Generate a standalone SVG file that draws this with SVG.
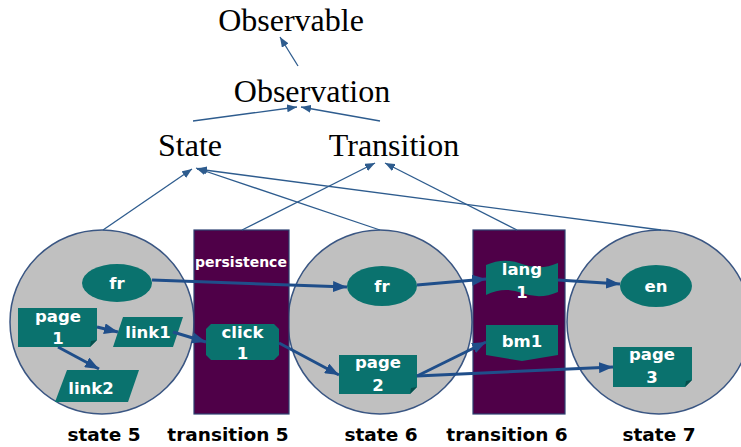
<svg xmlns="http://www.w3.org/2000/svg" width="741" height="447" viewBox="0 0 741 447">
<defs>
<style>
.top{font-family:"Liberation Serif","Times New Roman",serif;font-size:32px;fill:#000;text-anchor:middle}
.state{fill:#c0c0c0;stroke:#3a5683;stroke-width:1.5}
.trans{fill:#4f0048;stroke:#2e4272;stroke-width:1.2}
.shape{fill:#0a726e}
.nt{font-family:"DejaVu Sans",Verdana,sans-serif;font-weight:bold;font-size:16.5px;fill:#fff;text-anchor:middle}
.pt{font-family:"DejaVu Sans",Verdana,sans-serif;font-weight:bold;font-size:14px;fill:#fff;text-anchor:middle}
.lbl{font-family:"DejaVu Sans",Verdana,sans-serif;font-weight:bold;font-size:18.5px;fill:#000;text-anchor:middle}
.thin{fill:none;stroke:#2e5c8e;stroke-width:1.3;marker-end:url(#ah)}
.thick{fill:none;stroke:#1f4e8a;stroke-width:3;marker-end:url(#AH)}
</style>
<marker id="ah" markerUnits="userSpaceOnUse" markerWidth="10" markerHeight="8" viewBox="0 0 10 8" refX="10" refY="4" orient="auto">
<path d="M0,0 L10,4 L0,8 Z" fill="#2e5c8e"/>
</marker>
<marker id="AH" markerUnits="userSpaceOnUse" markerWidth="14" markerHeight="11" viewBox="0 0 14 11" refX="14" refY="5.5" orient="auto">
<path d="M0,0 L14,5.5 L0,11 Z" fill="#1f4e8a"/>
</marker>
</defs>
<rect width="741" height="447" fill="#fff"/>

<g id="observable"><text class="top" x="291" y="31">Observable</text></g>
<g id="observation"><text class="top" x="312" y="102">Observation</text></g>
<g id="state"><text class="top" x="190" y="156">State</text></g>
<g id="transition"><text class="top" x="394" y="156">Transition</text></g>

<g id="state5"><circle class="state" cx="102" cy="322" r="92"/></g>
<g id="state6"><circle class="state" cx="380" cy="322" r="92"/></g>
<g id="state7"><circle class="state" cx="659" cy="322" r="92"/></g>
<g id="transition5"><rect class="trans" x="194" y="230" width="95" height="184"/><text class="pt" x="241" y="267">persistence</text></g>
<g id="transition6"><rect class="trans" x="473" y="230" width="92" height="184"/></g>

<g id="fr5"><ellipse class="shape" cx="117" cy="283" rx="35" ry="19"/><text class="nt" x="117" y="289">fr</text></g>
<g id="page1"><path class="shape" d="M18,308 H97 V340 L90,347 H18 Z"/><path d="M97,340 L90,347 L91,341 Z" fill="#064f4c"/><text class="nt" x="58" y="322">page</text><text class="nt" x="58" y="344">1</text></g>
<g id="link1"><path class="shape" d="M113,347 L123,317 H183 L173,347 Z"/><text class="nt" x="148" y="338">link1</text></g>
<g id="link2"><path class="shape" d="M55,402 L67,370 H139 L128,402 Z"/><text class="nt" x="91" y="394">link2</text></g>
<g id="click1"><path class="shape" d="M211,324 H274 L279,329 V355 L274,360 H211 L206,355 V329 Z"/><text class="nt" x="242.5" y="338">click</text><text class="nt" x="242.5" y="359">1</text></g>
<g id="fr6"><ellipse class="shape" cx="382" cy="286" rx="35" ry="20"/><text class="nt" x="382" y="292">fr</text></g>
<g id="page2"><path class="shape" d="M339,355 H417 V387 L410,394 H339 Z"/><path d="M417,387 L410,394 L411,388 Z" fill="#064f4c"/><text class="nt" x="378" y="368">page</text><text class="nt" x="378" y="391">2</text></g>
<g id="lang1"><path class="shape" d="M486,265 Q504,257 522,264 T558,263 V292 Q540,300 522,293 T486,295 Z"/><text class="nt" x="522" y="275">lang</text><text class="nt" x="522" y="298">1</text></g>
<g id="bm1"><path class="shape" d="M486,325 H558 V355 L522,361 L486,355 Z"/><text class="nt" x="522" y="347">bm1</text></g>
<g id="en"><ellipse class="shape" cx="656" cy="286" rx="36" ry="21"/><text class="nt" x="656" y="292">en</text></g>
<g id="page3"><path class="shape" d="M613,347 H692 V380 L685,387 H613 Z"/><path d="M692,380 L685,387 L686,381 Z" fill="#064f4c"/><text class="nt" x="652" y="360">page</text><text class="nt" x="652" y="383">3</text></g>

<g id="labels">
<text class="lbl" x="104" y="441">state 5</text>
<text class="lbl" x="228" y="441">transition 5</text>
<text class="lbl" x="381" y="441">state 6</text>
<text class="lbl" x="507" y="441">transition 6</text>
<text class="lbl" x="659" y="441">state 7</text>
</g>

<g id="connectors">
<path class="thin" d="M298,66 L280,37"/>
<path class="thin" d="M193,121 L297,107"/>
<path class="thin" d="M380,121 L301,107"/>
<path class="thin" d="M103,230 L192,169"/>
<path class="thin" d="M380,230 L196,168"/>
<path class="thin" d="M661,230 L197,169"/>
<path class="thin" d="M242,230 L375,163"/>
<path class="thin" d="M517,230 L385,163"/>
<path class="thick" d="M152,280 L347,287"/>
<path class="thick" d="M97,327 L118,332"/>
<path class="thick" d="M58,347 L99,369"/>
<path class="thick" d="M173,332 L206,342"/>
<path class="thick" d="M279,343 L339,375"/>
<path class="thick" d="M417,285 L486,279"/>
<path class="thick" d="M417,376 L486,342"/>
<path class="thick" d="M417,376 L613,367"/>
<path class="thick" d="M558,280 L620,284"/>
</g>
</svg>
